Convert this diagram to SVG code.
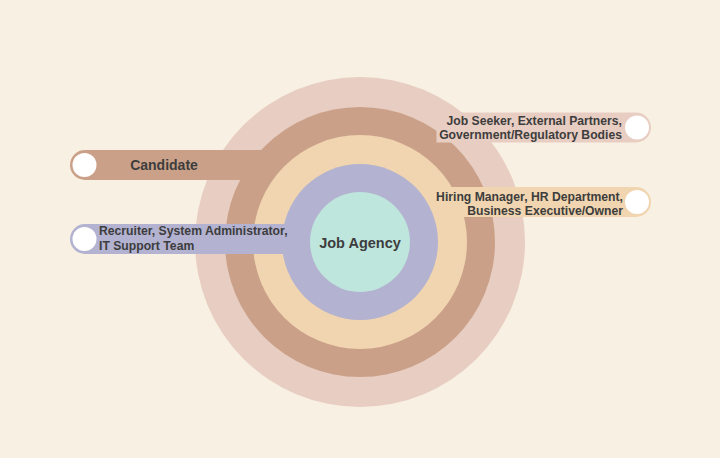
<svg xmlns="http://www.w3.org/2000/svg" width="720" height="458" viewBox="0 0 720 458">
  <style>
    .t { font-family: "Liberation Sans", Arial, sans-serif; font-weight: bold; fill: #3d3d3d; }
    .s { font-size: 12.2px; }
    .dot { fill: #ffffff; }
  </style>
  <rect x="0" y="0" width="720" height="458" fill="#f8f0e2"/>
  <g id="ring-outer">
    <circle cx="360" cy="242" r="165" fill="#e8cdc2"/>
  </g>
  <g id="candidate">
    <rect x="70" y="150" width="290" height="30" rx="15" fill="#caa188"/>
    <circle class="dot" cx="84.5" cy="165" r="12"/>
    <text class="t" x="164" y="169.5" font-size="14" text-anchor="middle">Candidate</text>
  </g>
  <g id="ring-2">
    <circle cx="360" cy="242" r="135" fill="#caa188"/>
  </g>
  <g id="job-seeker">
    <path d="M436.5,112.5 H636 A15,15 0 0 1 636,142.5 H436.5 Z" fill="#e8cdc2"/>
    <circle class="dot" cx="637" cy="127.5" r="12"/>
    <text class="t s" text-anchor="end"><tspan x="622" y="125">Job Seeker, External Partners,</tspan><tspan x="622" y="138.5">Government/Regulatory Bodies</tspan></text>
  </g>
  <g id="ring-3">
    <circle cx="360" cy="242" r="107" fill="#f0d5b0"/>
  </g>
  <g id="hiring">
    <path d="M433,187 H636 A15,15 0 0 1 636,217 H433 Z" fill="#f0d5b0"/>
    <circle class="dot" cx="637" cy="202" r="12"/>
    <text class="t s" text-anchor="end"><tspan x="623" y="200.5">Hiring Manager, HR Department,</tspan><tspan x="623" y="215">Business Executive/Owner</tspan></text>
  </g>
  <g id="ring-4">
    <circle cx="360" cy="242" r="78" fill="#b3b2d0"/>
  </g>
  <g id="recruiter">
    <path d="M300,224 H85 A15,15 0 0 0 85,254 H300 Z" fill="#b3b2d0"/>
    <circle class="dot" cx="84.5" cy="239" r="12"/>
    <text class="t s"><tspan x="99" y="235">Recruiter, System Administrator,</tspan><tspan x="99" y="249.5">IT Support Team</tspan></text>
  </g>
  <g id="job-agency">
    <circle cx="360" cy="242" r="50" fill="#bee6dd"/>
    <text class="t" x="360" y="247.5" font-size="14.5" text-anchor="middle">Job Agency</text>
  </g>
  <g id="connectors"></g>
</svg>
